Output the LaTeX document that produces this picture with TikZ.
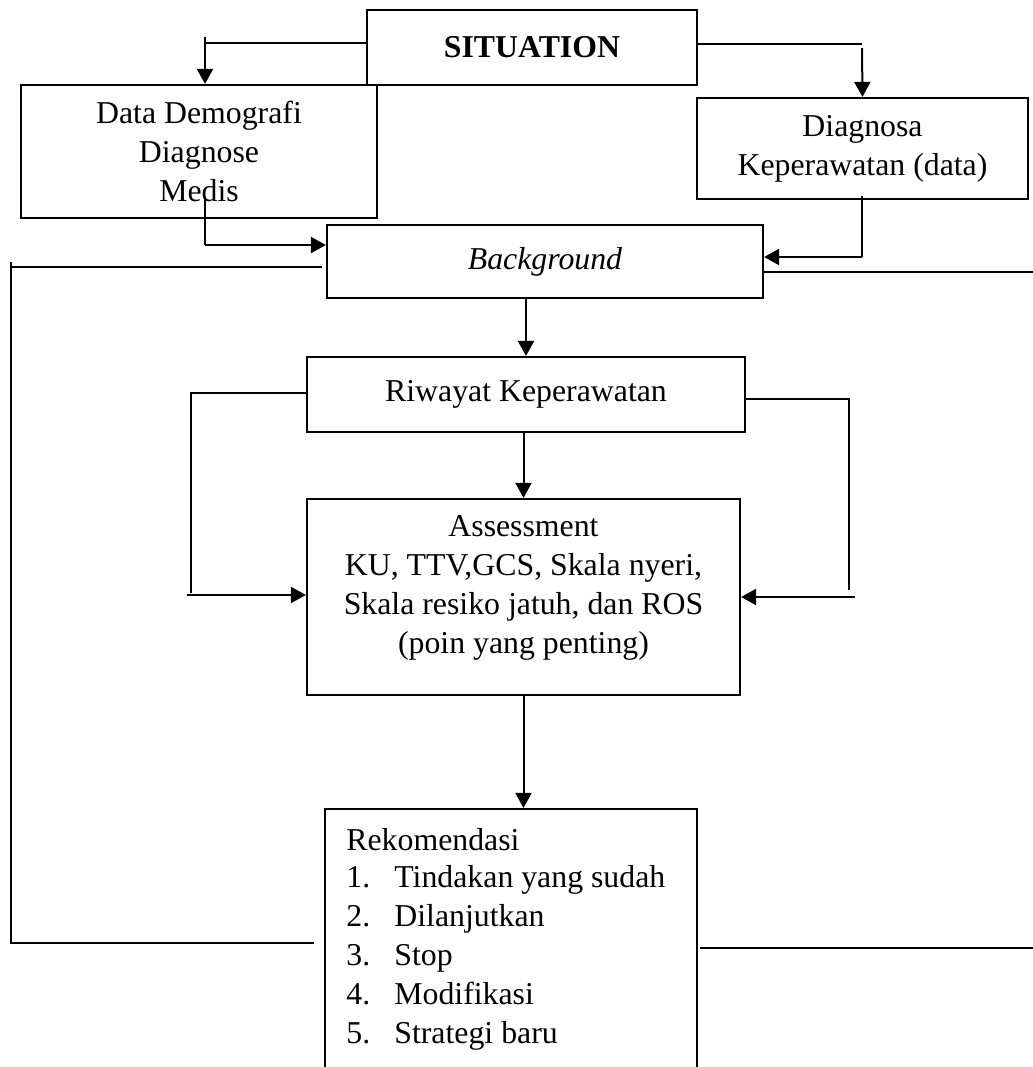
\documentclass[tikz,border=0pt]{standalone}
\usepackage{fontspec}
\setmainfont{Liberation Serif}
\usetikzlibrary{arrows.meta}
\newcommand\fsz{\fontsize{15.9}{19.5}\selectfont}
\begin{document}
\begin{tikzpicture}[x=0.5pt,y=-0.5pt,
 box/.style={draw,line width=1.1pt,rectangle,inner sep=0pt,align=center,font=\fsz},
 txt/.style={inner sep=0pt,align=center,font=\fsz},
 ln/.style={line width=1pt},
 arr/.style={line width=1pt,-{Triangle[length=7.5pt,width=8pt]}}]
\useasboundingbox[fill=white] (0,0) rectangle (1033,1067);
% boxes
\node[box,minimum width=165pt,minimum height=37.5pt] (sit) at (532,47.5) {\textbf{SITUATION}};
\node[box,minimum width=178pt,minimum height=66.5pt] (data) at (199,151.5) {Data Demografi\\Diagnose\\Medis};
\node[box,minimum width=165.5pt,minimum height=50.5pt] (diag) at (862.5,148.5) {Diagnosa\\Keperawatan (data)};
\node[box,minimum width=218pt,minimum height=36.5pt] (bg) at (545,261.5) {\textit{Background}};
\node[box,minimum width=219pt,minimum height=37.5pt] (riw) at (526,394.5) {Riwayat Keperawatan};
\node[box,minimum width=216.5pt,minimum height=98pt] (asm) at (523.5,597) {};
\node[txt] (asmtxt) at (523.5,587.5) {Assessment\\KU, TTV,GCS, Skala nyeri,\\Skala resiko jatuh, dan ROS\\(poin yang penting)};
\node[box,minimum width=186pt,minimum height=145.5pt] (rek) at (511,954.5) {};
\node[inner sep=0pt,anchor=north west,font=\fsz] (rektxt) at (346,823) {%
\begin{tabular}{@{}p{24pt}@{}l@{}}
\multicolumn{2}{@{}l@{}}{Rekomendasi}\\[-1pt]
1. & Tindakan yang sudah\\
2. & Dilanjutkan\\
3. & Stop\\
4. & Modifikasi\\
5. & Strategi baru
\end{tabular}};
% helper coordinates
\coordinate (sl) at (205,43);
\coordinate (slt) at (205,37);
\coordinate (sr) at (862,44);
\coordinate (srt) at (862,48);
\coordinate (dl) at (205,197);
\coordinate (dlc) at (205,245);
\coordinate (dr) at (862,196);
\coordinate (drc) at (862,257);
\coordinate (bl) at (322,267);
\coordinate (blc) at (11,267);
\coordinate (blt) at (11,262);
\coordinate (blb) at (11,943);
\coordinate (bll) at (314,943);
\coordinate (br) at (764,272);
\coordinate (bre) at (1033,272);
\coordinate (rr) at (700,948);
\coordinate (rre) at (1033,948);
\coordinate (ll) at (191,393);
\coordinate (llb) at (191,593);
\coordinate (lla) at (187,595);
\coordinate (rl) at (849,399);
\coordinate (rlb) at (849,590);
\coordinate (rla) at (855,597);
% connectors
\draw[ln] (sit.west |- sl) -- (sl);
\draw[arr] (slt) -- (slt |- data.north);
\draw[ln] (sit.east |- sr) -- (sr);
\draw[arr] (srt) -- (diag.north);
\draw[ln] (dl) -- (dlc);
\draw[arr] (dlc) -- (dlc -| bg.west);
\draw[ln] (dr) -- (drc);
\draw[arr] (drc) -- (drc -| bg.east);
\draw[ln] (bl) -- (blc);
\draw[ln] (blt) -- (blb) -- (bll);
\draw[ln] (br) -- (bre);
\draw[ln] (rr) -- (rre);
\draw[arr] (bg.south -| riw.north) -- (riw.north);
\draw[arr] (riw.south -| asm.north) -- (asm.north);
\draw[ln] (riw.west |- ll) -- (ll) -- (llb);
\draw[arr] (lla) -- (lla -| asm.west);
\draw[ln] (riw.east |- rl) -- (rl) -- (rlb);
\draw[arr] (rla) -- (rla -| asm.east);
\draw[arr] (asm.south) -- (asm.south |- rek.north);
\end{tikzpicture}
\end{document}
